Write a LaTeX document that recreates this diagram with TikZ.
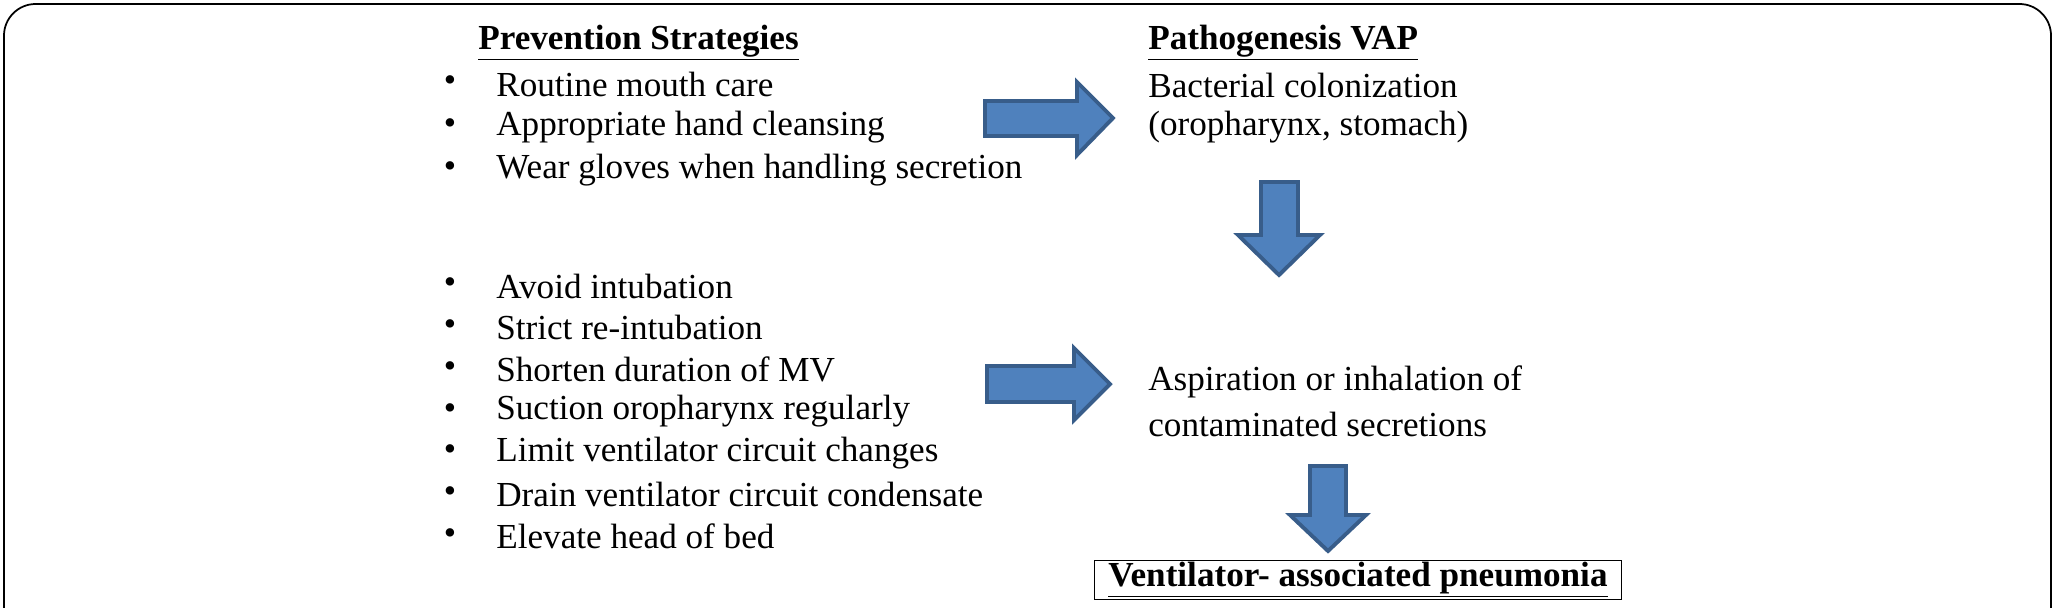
\documentclass[tikz,border=0pt]{standalone}
\usepackage{fontspec}
\setmainfont{Liberation Serif}
\begin{document}
\begin{tikzpicture}[x=0.02cm,y=-0.02cm,
 txt/.style={anchor=west,inner sep=0pt,font=\fontsize{20}{24}\selectfont},
 bul/.style={inner sep=0pt,font=\fontsize{20}{24}\selectfont},
 blk/.style={fill=blue!40!cyan!30!black!0,fill={rgb,255:red,79;green,129;blue,189},draw={rgb,255:red,56;green,93;blue,138},line width=2.2pt,line join=miter}]
\useasboundingbox (0,0) rectangle (2055,608);
\draw[line width=1pt,rounded corners=18] (4,650) -- (4,4) -- (2051,4) -- (2051,650);
\node[txt,font=\fontsize{20}{24}\selectfont\bfseries] (ps) at (478,43) {\underline{Prevention Strategies}};
\foreach \t [count=\i] in {Routine mouth care,Appropriate hand cleansing,Wear gloves when handling secretion}{
 \node[bul] (b\i) at (450,{84+43*(\i-1)}) {•};
 \node[txt] (t\i) at (496,{84+43*(\i-1)}) {\t};}
\foreach \t [count=\i] in {Avoid intubation,Strict re-intubation,Shorten duration of MV,Suction oropharynx regularly,Limit ventilator circuit changes,Drain ventilator circuit condensate,Elevate head of bed}{
 \node[bul] (c\i) at (450,{286+41.7*(\i-1)}) {•};
 \node[txt] (u\i) at (496,{286+41.7*(\i-1)}) {\t};}
\node[txt,font=\fontsize{20}{24}\selectfont\bfseries] (pv) at (1148,43) {\underline{Pathogenesis VAP}};
\node[txt] (bc) at (1148,85) {Bacterial colonization};
\node[txt] (or) at (1148,127) {(oropharynx, stomach)};
\node[txt] (as) at (1148,382) {Aspiration or inhalation of};
\node[txt] (cs) at (1148,424) {contaminated secretions};
\node[draw,line width=1pt,inner sep=0pt,minimum width=527*0.02cm,minimum height=39*0.02cm,font=\fontsize{20}{24}\selectfont\bfseries] (vap) at (1358,580) {\underline{Ventilator- associated pneumonia}};
% right arrows
\draw[blk] (985,101) -- (1077,101) -- (1077,82) -- (1113,118) -- (1077,155) -- (1077,136) -- (985,136) -- cycle;
\draw[blk] (987,366) -- (1074,366) -- (1074,348) -- (1110,384) -- (1074,420) -- (1074,402) -- (987,402) -- cycle;
% down arrows
\draw[blk] (1261,182) -- (1298,182) -- (1298,235) -- (1320,235) -- (1279,275) -- (1238,235) -- (1261,235) -- cycle;
\draw[blk] (1310,466) -- (1346,466) -- (1346,515) -- (1366,515) -- (1328,551) -- (1290,515) -- (1310,515) -- cycle;
\end{tikzpicture}
\end{document}
